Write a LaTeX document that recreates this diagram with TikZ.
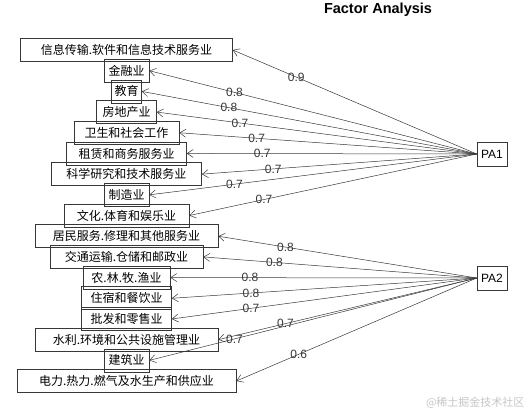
\documentclass[tikz,border=0pt]{standalone}
\usepackage{fontspec}
\setmainfont{Liberation Sans}
\newfontfamily\cjkfont{Noto Sans CJK SC}
\usetikzlibrary{arrows.meta,positioning}
\definecolor{faline}{RGB}{55,55,55}
\tikzset{
  itembox/.style={draw=faline,line width=.6pt,minimum height=23pt,inner sep=0pt,
    font=\cjkfont\fontsize{12}{12}\selectfont},
  facbox/.style={draw=faline,line width=.6pt,minimum width=30pt,minimum height=24pt,inner sep=0pt},
  loading/.style={-{Straight Barb[length=6pt,width=8pt]},faline,line width=.5pt},
}

\begin{document}
\begin{tikzpicture}[x=1pt,y=-1pt,font=\fontsize{12}{12}\selectfont]
    \useasboundingbox (0,0) rectangle (531,413);
    \node[font=\bfseries\fontsize{14.5}{14.5}\selectfont] (title) at (378,10) {Factor Analysis};
    % variables, top to bottom
    \foreach \i/\w/\txt in {1/212/信息传输.软件和信息技术服务业,2/45/金融业,3/30/教育,
      4/60/房地产业,5/105/卫生和社会工作,6/120/租赁和商务服务业,7/150/科学研究和技术服务业,
      8/45/制造业,9/125/文化.体育和娱乐业,10/183/居民服务.修理和其他服务业,
      11/153/交通运输.仓储和邮政业,12/87/农.林.牧.渔业,13/90/住宿和餐饮业,14/90/批发和零售业,
      15/183/水利.环境和公共设施管理业,16/45/建筑业,17/219/电力.热力.燃气及水生产和供应业}{
      \node[itembox,minimum width=\w pt] (v\i) at (126.5,{50+20.69*(\i-1)}) {\txt};
    }
    % factors
    \node[facbox] (pa1) at (492,154) {PA1};
    \node[facbox] (pa2) at (492,278) {PA2};
    \foreach \i/\v/\f in {1/0.9/pa1,2/0.8/pa1,3/0.8/pa1,4/0.7/pa1,5/0.7/pa1,6/0.7/pa1,
      7/0.7/pa1,8/0.7/pa1,9/0.7/pa1,10/0.8/pa2,11/0.8/pa2,12/0.8/pa2,13/0.8/pa2,
      14/0.7/pa2,15/0.7/pa2,16/0.7/pa2,17/0.6/pa2}{
      \draw[loading] (\f.west) -- node[pos=.74,inner sep=0pt]{\v} (v\i.east);
    }
    \node[font=\cjkfont\fontsize{11}{11}\selectfont,text=gray!45,anchor=east] (mark) at (528,403) {@稀土掘金技术社区};
\end{tikzpicture}
\end{document}
